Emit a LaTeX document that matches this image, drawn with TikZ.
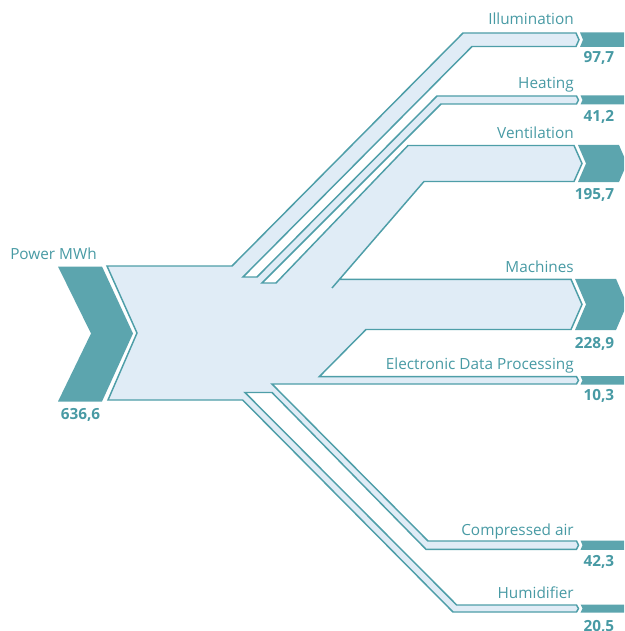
\documentclass[tikz,border=0pt]{standalone}
\usepackage{fontspec}
\setsansfont{Open Sans}
\definecolor{flowFill}{RGB}{224,236,246}
\definecolor{flowLine}{RGB}{78,158,168}
\definecolor{sinkFill}{RGB}{92,165,174}
\definecolor{flowText}{RGB}{72,154,164}

\begin{document}
\begin{tikzpicture}[x=0.75pt, y=-0.75pt,
    flow/.style={fill=flowFill, draw=flowLine, line width=1.1pt, line join=miter},
    sink/.style={fill=sinkFill},
    flowname/.style={inner sep=0pt, anchor=base east, text=flowText, font=\sffamily\fontsize{11.5}{13}\selectfont},
    flowvalue/.style={inner sep=0pt, anchor=base east, text=flowText, font=\sffamily\bfseries\fontsize{11.5}{13}\selectfont}]

    \useasboundingbox (0,0) rectangle (624,631);
    \clip (0,0) rectangle (624,631);

    \path [flow] (107,266) -- (232,266) -- (463,33) -- (576,33) -- (579,39.75) -- (576,46.5)
        -- (472,46.5) -- (243,277) -- (257,277) -- (437,96) -- (576.5,96) -- (578.5,100) -- (576.5,104)
        -- (441,104) -- (262,283) -- (276,283) -- (408,145.5) -- (574,145.5) -- (582,163.5) -- (574,181.5)
        -- (424,181.5) -- (332,288) -- (339.5,279.3) -- (571,279.3) -- (582,304.4) -- (571,329.5)
        -- (366,329.5) -- (319.3,376.7) -- (576.5,376.7) -- (578.5,380.35) -- (576.5,384)
        -- (272,384) -- (428,541) -- (576.5,541) -- (578.5,545.15) -- (576.5,549.3)
        -- (426,549.3) -- (272,392.5) -- (245,392.5) -- (456.7,605) -- (576.5,605) -- (578.5,608.5) -- (576.5,612)
        -- (453,612) -- (242.7,400) -- (108,400) -- (137,333) -- cycle;

    \path [sink] (58,266.5) -- (102,266.5) -- (133,333.5) -- (102,401.5) -- (58,401.5) -- (91,333.5) -- cycle;
    \path [sink] (580,32.5) -- (624,32.5) -- (627,39.75) -- (624,47) -- (580,47) -- (583,39.75) -- cycle;
    \path [sink] (580.5,95.5) -- (625,95.5) -- (627,100) -- (625,104.5) -- (580.5,104.5) -- (582.5,100) -- cycle;
    \path [sink] (578,145) -- (619,145) -- (627,163.5) -- (619,182) -- (578,182) -- (586,163.5) -- cycle;
    \path [sink] (575,278.8) -- (616,278.8) -- (627,304.4) -- (616,330) -- (575,330) -- (586,304.4) -- cycle;
    \path [sink] (580.5,376.2) -- (625,376.2) -- (627,380.35) -- (625,384.5) -- (580.5,384.5) -- (582.5,380.35) -- cycle;
    \path [sink] (580.5,540.5) -- (625,540.5) -- (627,545.15) -- (625,549.8) -- (580.5,549.8) -- (582.5,545.15) -- cycle;
    \path [sink] (580.5,604.5) -- (625,604.5) -- (627,608.5) -- (625,612.5) -- (580.5,612.5) -- (582.5,608.5) -- cycle;

    \node [flowname, anchor=base west] (power) at (10,259.3) {Power MWh};
    \node [flowvalue, anchor=base west] (powerval) at (60.5,419.3) {636,6};

    \node [flowname] (illum) at (574,25) {Illumination};
    \node [flowvalue] (illumval) at (614.5,63) {97,7};
    \node [flowname] (heat) at (574,88.3) {Heating};
    \node [flowvalue] (heatval) at (614.5,121.5) {41,2};
    \node [flowname] (vent) at (574,138.3) {Ventilation};
    \node [flowvalue] (ventval) at (614.5,199) {195,7};
    \node [flowname] (mach) at (574,272.3) {Machines};
    \node [flowvalue] (machval) at (614.5,348.3) {228,9};
    \node [flowname] (edp) at (574,369.3) {Electronic Data Processing};
    \node [flowvalue] (edpval) at (614.5,400) {10,3};
    \node [flowname] (air) at (574,535) {Compressed air};
    \node [flowvalue] (airval) at (614.5,566.7) {42,3};
    \node [flowname] (humid) at (574,598.3) {Humidifier};
    \node [flowvalue] (humidval) at (614.5,631) {20,5};
\end{tikzpicture}
\end{document}
